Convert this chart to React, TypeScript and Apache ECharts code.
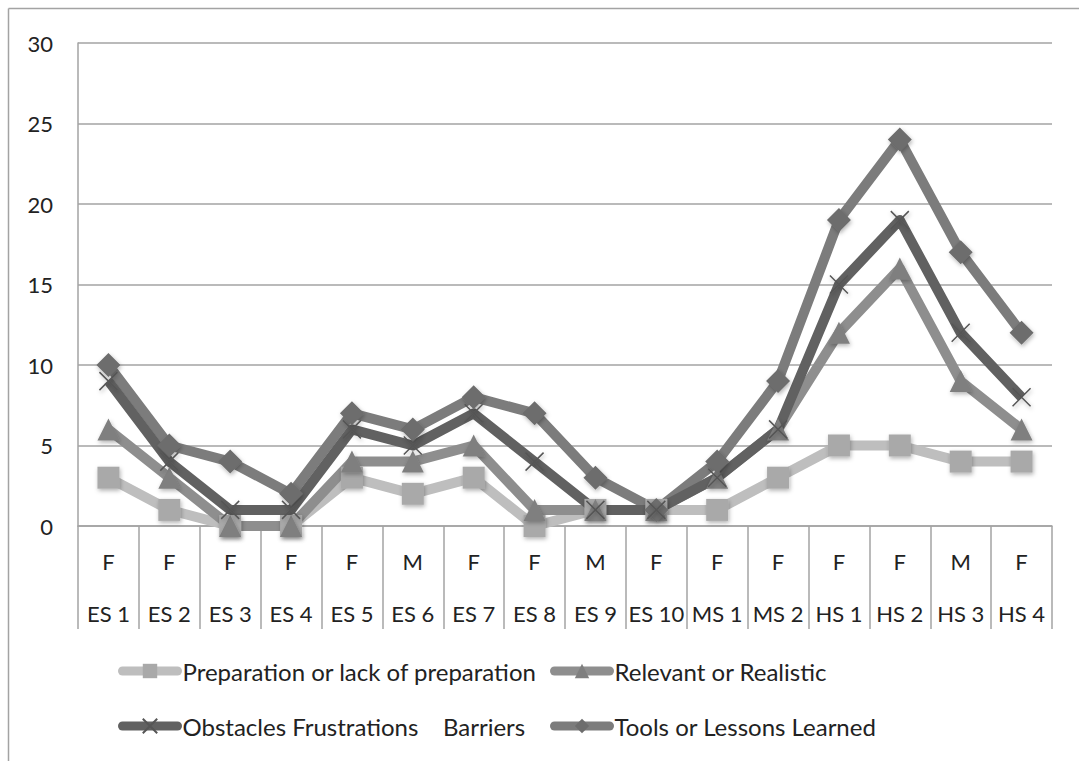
import React, { useEffect, useRef } from "react";
import * as echarts from "echarts";

const genders = ["F", "F", "F", "F", "F", "M", "F", "F", "M", "F", "F", "F", "F", "F", "M", "F"];
const schools = ["ES 1", "ES 2", "ES 3", "ES 4", "ES 5", "ES 6", "ES 7", "ES 8", "ES 9", "ES 10", "MS 1", "MS 2", "HS 1", "HS 2", "HS 3", "HS 4"];

const preparation = [3, 1, 0, 0, 3, 2, 3, 0, 1, 1, 1, 3, 5, 5, 4, 4];
const relevant = [6, 3, 0, 0, 4, 4, 5, 1, 1, 1, 3, 6, 12, 16, 9, 6];
const obstacles = [9, 4, 1, 1, 6, 5, 7, 4, 1, 1, 3, 6, 15, 19, 12, 8];
const tools = [10, 5, 4, 2, 7, 6, 8, 7, 3, 1, 4, 9, 19, 24, 17, 12];

const seriesNames = [
  "Preparation or lack of preparation",
  "Relevant or Realistic",
  "Obstacles Frustrations    Barriers",
  "Tools or Lessons Learned",
];

const FONT = "Lato, 'Open Sans', sans-serif";
const CROSS = "path://M0 0L10 10M10 0L0 10";

export default function App() {
  const ref = useRef<HTMLDivElement>(null);
  useEffect(() => {
    if (!ref.current) return;
    const chart = echarts.init(ref.current, undefined, { renderer: "svg" });
    const shadow = { shadowBlur: 4, shadowColor: "rgba(0,0,0,0.3)", shadowOffsetY: 2, shadowOffsetX: 1 };
    const mk = (name: string, data: number[], lineColor: string, symColor: string, symbol: string, size: number, extraItem: any = {}) => ({
      name,
      type: "line",
      data,
      xAxisIndex: 0,
      symbol,
      symbolSize: size,
      lineStyle: { color: lineColor, width: 10, join: "round" },
      itemStyle: { color: symColor, ...shadow, ...extraItem },
      emphasis: { disabled: true },
    });
    const legendBase = (name: string, left: number, top: number) => ({
      data: [name],
      left,
      top,
      padding: 0,
      orient: "horizontal",
      itemWidth: 55,
      itemHeight: 18,
      itemGap: 0,
      lineStyle: { width: 9, cap: "round" },
      textStyle: { fontFamily: FONT, fontSize: 24, color: "#222" },
      selectedMode: false,
    });
    chart.setOption({
      animation: false,
      backgroundColor: "#fff",
      textStyle: { fontFamily: FONT },
      graphic: [
        { type: "line", shape: { x1: 8.5, y1: 8.5, x2: 1079, y2: 8.5 }, style: { stroke: "#a3a3a3", lineWidth: 1.5 } },
        { type: "line", shape: { x1: 8.5, y1: 8.5, x2: 8.5, y2: 761 }, style: { stroke: "#a3a3a3", lineWidth: 1.5 } },
      ],
      grid: { left: 78, right: 27, top: 43, bottom: 235, containLabel: false },
      legend: [
        legendBase(seriesNames[0], 118, 659),
        legendBase(seriesNames[1], 550, 659),
        legendBase(seriesNames[2], 118, 714),
        legendBase(seriesNames[3], 550, 714),
      ],
      xAxis: [
        {
          type: "category",
          data: genders,
          position: "bottom",
          boundaryGap: true,
          axisLine: { show: true, onZero: false, lineStyle: { color: "#a3a3a3", width: 1.5 } },
          axisTick: { show: true, interval: 0, length: 103, lineStyle: { color: "#a3a3a3", width: 1.5 } },
          axisLabel: { interval: 0, margin: 24, fontSize: 22, color: "#222", fontFamily: FONT },
          splitLine: { show: false },
        },
        {
          type: "category",
          data: schools,
          position: "bottom",
          boundaryGap: true,
          axisLine: { show: false, onZero: false },
          axisTick: { show: false },
          axisLabel: { interval: 0, margin: 76, fontSize: 22, color: "#222", fontFamily: FONT },
          splitLine: { show: false },
        },
      ],
      yAxis: {
        type: "value",
        min: 0,
        max: 30,
        interval: 5,
        axisLine: { show: true, lineStyle: { color: "#a3a3a3", width: 1.5 } },
        axisTick: { show: false },
        axisLabel: { margin: 25, fontSize: 22, color: "#222", fontFamily: FONT },
        splitLine: { show: true, lineStyle: { color: "#a3a3a3", width: 1.5 } },
      },
      series: [
        mk(seriesNames[0], preparation, "#bebebe", "#a9a9a9", "rect", 22),
        mk(seriesNames[1], relevant, "#8e8e8e", "#7f7f7f", "triangle", 22),
        mk(seriesNames[3], tools, "#7c7c7c", "#6d6d6d", "diamond", 24),
        mk(seriesNames[2], obstacles, "#616161", "#555555", CROSS, 18, { color: "transparent", borderColor: "#555", borderWidth: 1.5 }),
      ],
    });
    return () => chart.dispose();
  }, []);
  return <div ref={ref} style={{ position: "fixed", left: 0, top: 0, width: 1079, height: 761 }} />;
}
